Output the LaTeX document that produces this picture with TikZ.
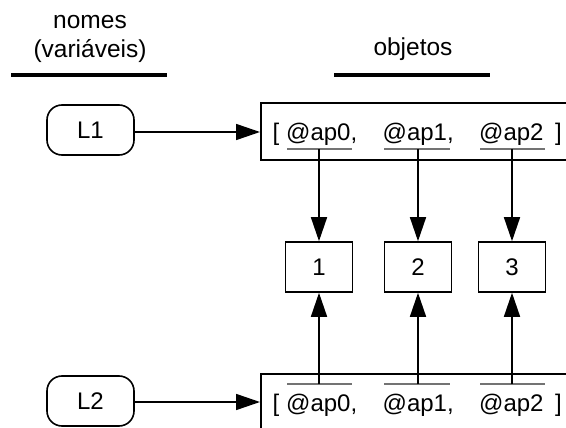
\documentclass[tikz,border=0pt]{standalone}
\usepackage{fontspec}
\setmainfont{Liberation Sans}
\usetikzlibrary{arrows.meta}
\begin{document}
\begin{tikzpicture}[x=1pt,y=-1pt,
  every node/.style={font=\fontsize{24}{29}\selectfont},
  headtxt/.style={anchor=base, font=\fontsize{24.5}{29}\selectfont},
  txt/.style={inner sep=0pt, anchor=base west},
  namebox/.style={draw, line width=1.6pt, rounded corners=15pt, minimum width=87pt, minimum height=50pt, inner sep=0pt},
  valbox/.style={draw, line width=1.6pt, minimum width=67pt, minimum height=50pt, inner sep=0pt},
  listbox/.style={draw, line width=1.6pt, minimum width=340pt, minimum height=57pt, inner sep=0pt, anchor=north west},
  arr/.style={line width=1.6pt, -{Triangle[length=24pt,width=16pt]}},
  head/.style={line width=3.5pt},
  refline/.style={line width=1.2pt, draw=black!55}]
\path[use as bounding box, clip] (0,0) rectangle (566,428);

% headers
\node[headtxt] (h1) at (90,29) {nomes};
\node[headtxt] (h2) at (90,58) {(variáveis)};
\node[headtxt] (h3) at (413,56) {objetos};
\draw[head] (11,75) -- (167,75);
\draw[head] (334,75) -- (490,75);

% list boxes
\node[listbox] (top) at (260,102) {};
\node[listbox, minimum height=80pt] (bot) at (260,373) {};

% name boxes
\node[namebox] (L1) at (90.5,130) {L1};
\node[namebox] (L2) at (90.5,401) {L2};
\draw[arr] (L1.east |- 0,132) -- (top.west |- 0,132);
\draw[arr] (L2.east |- 0,402) -- (bot.west |- 0,402);

% top list text
\node[txt] (tb1) at (272.5,141) {[};
\node[txt] (a0) at (286,141) {@ap0,};
\node[txt] (a1) at (382.5,141) {@ap1,};
\node[txt] (a2) at (479,141) {@ap2};
\node[txt] (tb2) at (555,141) {]};
\draw[refline] (287,149) -- (352,149);
\draw[refline] (384,149) -- (450,149);
\draw[refline] (480,149) -- (545,149);

% bottom list text
\node[txt] (bb1) at (272.5,411) {[};
\node[txt] (b0) at (286,411) {@ap0,};
\node[txt] (b1) at (382.5,411) {@ap1,};
\node[txt] (b2) at (479,411) {@ap2};
\node[txt] (bb2) at (555,411) {]};
\draw[refline] (287,384) -- (352,384);
\draw[refline] (384,384) -- (450,384);
\draw[refline] (480,384) -- (545,384);

% value boxes
\node[valbox] (n1) at (319,267) {1};
\node[valbox] (n2) at (418,267) {2};
\node[valbox] (n3) at (512,267) {3};

\coordinate (u0) at (319,149);
\coordinate (u1) at (418,149);
\coordinate (u2) at (512,149);
\coordinate (v0) at (319,384);
\coordinate (v1) at (418,384);
\coordinate (v2) at (512,384);

\draw[arr] (u0) -- (n1);
\draw[arr] (u1) -- (n2);
\draw[arr] (u2) -- (n3);
\draw[arr] (v0) -- (n1);
\draw[arr] (v1) -- (n2);
\draw[arr] (v2) -- (n3);
\end{tikzpicture}
\end{document}
